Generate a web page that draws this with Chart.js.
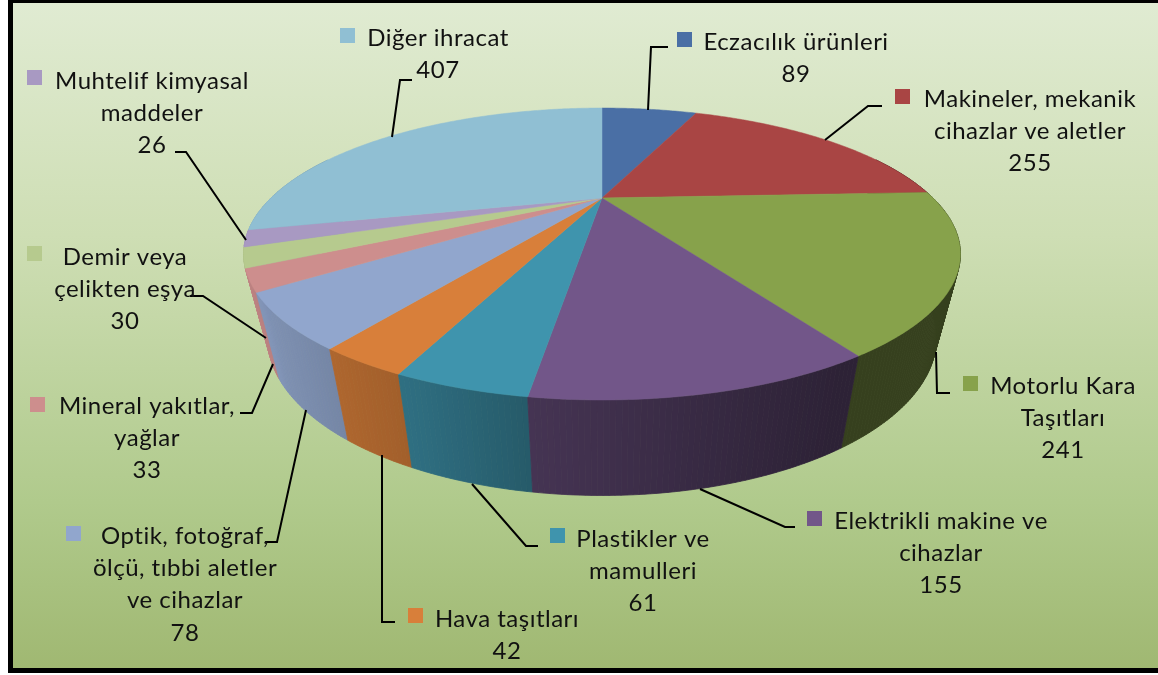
<!DOCTYPE html>
<html><head><meta charset="utf-8">
<style>html,body{margin:0;padding:0;background:#fff}canvas{display:block}</style>
<script src="https://cdn.jsdelivr.net/npm/chart.js@4"></script></head>
<body><canvas id="c" width="1158" height="675"></canvas>
<script>
const categories=["Eczacılık ürünleri","Makineler, mekanik cihazlar ve aletler","Motorlu Kara Taşıtları","Elektrikli makine ve cihazlar","Plastikler ve mamulleri","Hava taşıtları","Optik, fotoğraf, ölçü, tıbbi aletler ve cihazlar","Mineral yakıtlar, yağlar","Demir veya çelikten eşya","Muhtelif kimyasal maddeler","Diğer ihracat"];
const values=[89,255,241,155,61,42,78,33,30,26,407];
const colors=["#4a6fa5","#a94544","#87a24b","#725689","#3f94ad","#d87f3a","#91a6cd","#cd8e8d","#b6ca8e","#a899c2","#90bfd3"];
const labelLines=[["Eczacılık ürünleri"],["Makineler, mekanik","cihazlar ve aletler"],["Motorlu Kara","Taşıtları"],["Elektrikli makine ve","cihazlar"],["Plastikler ve","mamulleri"],["Hava taşıtları"],["Optik, fotoğraf,","ölçü, tıbbi aletler","ve cihazlar"],["Mineral yakıtlar,","yağlar"],["Demir veya","çelikten eşya"],["Muhtelif kimyasal","maddeler"],["Diğer ihracat"]];
// layout: text centre x, first-line centre y, key x, key y
const labelPos=[[796,42,677,32],[1030,99,895,89],[1063,386,963,376],[941,521,807,511],[643,539,550,528],[507,619,408,608],[185,536,66,526],[147,406,30,397],[125,257,27,246],[152,81,27,70],[438,38,340,28]];
const leaders=[[[668,47],[651,47],[648,110]],[[882,106],[868,106],[825,140]],[[936,352],[937,393],[950,393]],[[700,489],[785,527],[795,527]],[[472,484],[526,546],[538,546]],[[382,455],[382,622],[395,622]],[[306,410],[277,542],[265,542]],[[273,364],[252,413],[240,413]],[[266,338],[203,296],[190,296]],[[246,240],[186,152],[175,152]],[[392,137],[400,80],[412,80]]];
const P={cx:602,cy:198,A:331,B:124.5,a:0.3836};
function top3(t){const u=Math.cos(t),v=Math.sin(t),w=1-P.a*v;return [P.cx+P.A*u/w,P.cy+P.B*v/w];}
function bot3(t){const p=top3(t);return [P.cx+(p[0]-P.cx)*0.933,p[1]*1.08+63.5];}
function shade(hex,f){const n=parseInt(hex.slice(1),16);return `rgb(${(n>>16)*f|0},${((n>>8)&255)*f|0},${(n&255)*f|0})`;}
const sx=[240,270,350,414,530,840,1000],sf=[.95,.87,.79,.74,.61,.4,.4];
function factor(x){for(let i=1;i<sx.length;i++)if(x<=sx[i])return sf[i-1]+(sf[i]-sf[i-1])*(x-sx[i-1])/(sx[i]-sx[i-1]);return .4;}
const pie3d={id:'pie3d',
 beforeDraw(ch){const c=ch.ctx;c.save();
  c.fillStyle='#fff';c.fillRect(0,0,1158,675);
  const g=c.createLinearGradient(0,3,0,668);
  g.addColorStop(0,'#e0ebd2');g.addColorStop(.35,'#cedeb4');g.addColorStop(.75,'#b0ca8c');g.addColorStop(1,'#a0b872');
  c.fillStyle=g;c.fillRect(13,2,1145,666);
  c.fillStyle='#000';c.fillRect(8,0,1150,3);c.fillRect(8,0,5,673);c.fillRect(8,668,1150,5);
  c.restore();},
 beforeDatasetDraw(ch){const c=ch.ctx,arcs=ch.getDatasetMeta(0).data;c.save();
  const q=[];
  arcs.forEach((a,i)=>{const n=Math.max(4,Math.ceil((a.endAngle-a.startAngle)/0.012));
   for(let k=0;k<n;k++){const t0=a.startAngle+(a.endAngle-a.startAngle)*k/n,t1=a.startAngle+(a.endAngle-a.startAngle)*(k+1)/n;
    q.push({i,t0,t1,v:Math.sin((t0+t1)/2)});}});
  q.sort((x,y)=>x.v-y.v);
  q.forEach(s=>{if(s.v<-0.35)return;const p0=top3(s.t0),p1=top3(s.t1),b1=bot3(s.t1),b0=bot3(s.t0);
   const col=shade(colors[s.i],factor((p0[0]+p1[0])/2));
   c.fillStyle=col;c.strokeStyle=col;c.lineWidth=.8;c.beginPath();c.moveTo(...p0);c.lineTo(...p1);c.lineTo(...b1);c.lineTo(...b0);c.closePath();c.fill();c.stroke();});
  arcs.forEach((a,i)=>{c.fillStyle=colors[i];c.strokeStyle=colors[i];c.lineWidth=.5;c.beginPath();c.moveTo(P.cx,P.cy);
   const n=Math.ceil((a.endAngle-a.startAngle)/0.01);
   for(let k=0;k<=n;k++){c.lineTo(...top3(a.startAngle+(a.endAngle-a.startAngle)*k/n));}
   c.closePath();c.fill();c.stroke();});
  c.restore();return false;},
 afterDraw(ch){const c=ch.ctx;c.save();
  c.strokeStyle='#000';c.lineWidth=2;c.lineJoin='miter';
  leaders.forEach(l=>{c.beginPath();c.moveTo(...l[0]);c.lineTo(...l[1]);c.lineTo(...l[2]);c.stroke();});
  c.font='24px Lato';c.letterSpacing='0.5px';c.fillStyle='#111';c.textAlign='center';c.textBaseline='middle';
  labelLines.forEach((ls,i)=>{const [x,y,kx,ky]=labelPos[i];
   [...ls,String(values[i])].forEach((t,j)=>c.fillText(t,x,y+j*32.3));
   c.save();c.fillStyle=colors[i];c.fillRect(kx,ky,15,15);c.restore();});
  c.restore();}
};
new Chart(document.getElementById('c'),{type:'pie',data:{labels:categories,datasets:[{data:values,backgroundColor:colors,borderWidth:0}]},
 options:{responsive:false,animation:false,rotation:0,plugins:{legend:{display:false},tooltip:{enabled:false}}},plugins:[pie3d]});
</script></body></html>
